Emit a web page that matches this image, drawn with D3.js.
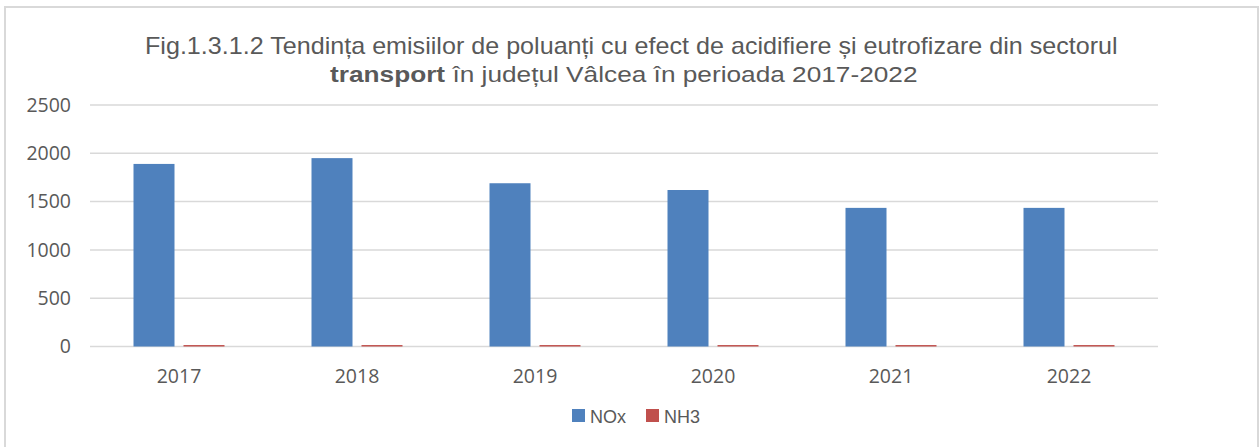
<!DOCTYPE html>
<html><head><meta charset="utf-8">
<script src="https://cdn.jsdelivr.net/npm/d3@7"></script>
<style>html,body{margin:0;padding:0;background:#fff;}svg{display:block;}</style>
</head><body>
<svg id="chart" width="1260" height="447"></svg>
<script>
const years = ["2017","2018","2019","2020","2021","2022"];
const seriesNames = ["NOx","NH3"];
const noxValues = [1890, 1950, 1690, 1620, 1435, 1435];
const nh3Values = [15, 15, 15, 15, 15, 15];
const yTicks = [0, 500, 1000, 1500, 2000, 2500];
const titleLine1 = "Fig.1.3.1.2 Tendința emisiilor de poluanți cu efect de acidifiere și eutrofizare din sectorul";
const titleBold = "transport";
const titleLine2Rest = " în județul  Vâlcea în perioada 2017-2022";

const colors = {NOx:"#4f81bd", NH3:"#c0504d"};
const svg = d3.select("#chart");
const txt = "#595959";

svg.append("rect").attr("x",5).attr("y",7).attr("width",1253).attr("height",460)
  .attr("fill","#fff").attr("stroke","#d9d9d9").attr("stroke-width",2);

const x0 = d3.scaleBand().domain(years).range([90,1158]).padding(0);
const x1 = d3.scaleBand().domain(seriesNames).range([43.5,134.5]).paddingInner(0.18).paddingOuter(0);
const y = d3.scaleLinear().domain([0,2500]).range([346.5,105]);

svg.append("g").selectAll("line").data(yTicks).join("line")
  .attr("x1",90).attr("x2",1158).attr("y1",d=>y(d)).attr("y2",d=>y(d))
  .attr("stroke","#d9d9d9").attr("stroke-width",1.5);

const yAxis = d3.axisLeft(y).tickValues(yTicks).tickSize(0).tickPadding(0).tickFormat(d3.format("d"));
const gy = svg.append("g").attr("transform","translate(71,0)").call(yAxis);
gy.select(".domain").remove();
gy.selectAll("text").attr("font-family","'Open Sans', sans-serif").attr("font-size",19.5).attr("fill",txt);

const xAxis = d3.axisBottom(x0).tickSize(0).tickPadding(0);
const gx = svg.append("g").attr("transform","translate(0,366)").call(xAxis);
gx.select(".domain").remove();
gx.selectAll("text").attr("font-family","'Open Sans', sans-serif").attr("font-size",19.5).attr("fill",txt)
  .attr("dy","0").attr("dominant-baseline","hanging");

const data = years.map((yr,i)=>({year:yr, NOx:noxValues[i], NH3:nh3Values[i]}));
const groups = svg.append("g").selectAll("g").data(data).join("g")
  .attr("transform",d=>`translate(${x0(d.year)},0)`);
groups.selectAll("rect").data(d=>seriesNames.map(k=>({key:k,value:d[k]}))).join("rect")
  .attr("x",d=>x1(d.key)).attr("width",x1.bandwidth())
  .attr("y",d=>y(d.value)).attr("height",d=>y(0)-y(d.value))
  .attr("fill",d=>colors[d.key]);

function fitText(sel, a, b){
  const bb = sel.node().getBBox();
  const s = (b-a)/bb.width;
  sel.attr("transform",`translate(${a},0) scale(${s},1) translate(${-bb.x},0)`);
}
const t1 = svg.append("text").attr("x",0).attr("y",54)
  .attr("font-family","'Liberation Sans', Arial, sans-serif").attr("font-size",23).attr("fill",txt)
  .text(titleLine1);
fitText(t1,145,1118);
const t2 = svg.append("text").attr("x",0).attr("y",82)
  .attr("font-family","'Liberation Sans', Arial, sans-serif").attr("font-size",23).attr("fill",txt);
t2.append("tspan").attr("font-weight","bold").text(titleBold);
t2.append("tspan").text(titleLine2Rest);
fitText(t2,330,918);

const legend = svg.append("g");
const legX = [572, 646];
seriesNames.forEach((k,i)=>{
  legend.append("rect").attr("x",legX[i]).attr("y",409).attr("width",13).attr("height",13).attr("fill",colors[k]);
  legend.append("text").attr("x",legX[i]+18).attr("y",423)
    .attr("font-family","'Liberation Sans', Arial, sans-serif").attr("font-size",18).attr("fill",txt).text(k);
});
</script>
</body></html>
